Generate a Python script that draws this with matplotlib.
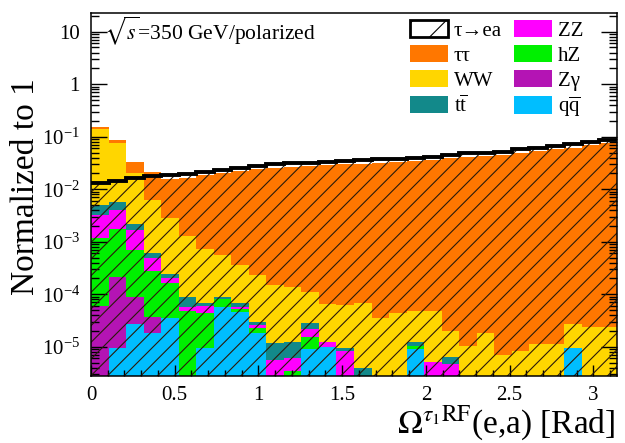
import numpy as np
import matplotlib
matplotlib.use("Agg")
import matplotlib.pyplot as plt
from matplotlib.patches import Patch
from matplotlib.ticker import FixedLocator, FixedFormatter, LogLocator, NullFormatter, MultipleLocator

plt.rcParams['font.family'] = ['Liberation Serif', 'DejaVu Serif']
plt.rcParams['mathtext.fontset'] = 'stix'
plt.rcParams['hatch.linewidth'] = 0.8

# ---------------- data (30 bins from 0 to pi) ----------------
x_range = (0.0, np.pi)
n_bins = 30

signal_tau_ea = [0.0129, 0.0145, 0.0163, 0.0178, 0.0184, 0.0194, 0.0213, 0.0232, 0.0254, 0.0281,
                 0.0296, 0.0309, 0.0316, 0.0330, 0.0344, 0.0355, 0.0368, 0.0381, 0.0398, 0.0419,
                 0.0448, 0.0483, 0.0496, 0.0518, 0.0575, 0.0609, 0.0679, 0.0716, 0.0792, 0.0865]

tautau = [0.0126, 0.0117, 0.0133, 0.0148, 0.0130, 0.0154, 0.0176, 0.0194, 0.0215, 0.0239,
          0.0253, 0.0264, 0.0271, 0.0283, 0.0296, 0.0304, 0.0316, 0.0327, 0.0342, 0.0360,
          0.0385, 0.0415, 0.0427, 0.0446, 0.0495, 0.0524, 0.0584, 0.0616, 0.0681, 0.0744]

ww = [0.1334, 0.0690, 0.0179, 5.60e-3, 2.55e-3, 1.20e-3, 6.49e-4, 4.68e-4, 2.93e-4, 2.02e-4,
      1.38e-4, 1.27e-4, 8.3e-5, 5.3e-5, 5.4e-5, 6.5e-5, 3.6e-5, 4.3e-5, 3.6e-5, 4.3e-5,
      1.37e-5, 1.03e-5, 1.80e-5, 6.9e-6, 8.3e-6, 1.13e-5, 1.13e-5, 1.77e-5, 2.34e-5, 2.34e-5]

ttbar = [1.77e-3, 1.76e-3, 5.0e-4, 1.34e-4, 4.2e-5, 3.1e-5, 7.5e-6, 8.5e-6, 9.3e-6, 4.0e-6,
         6.2e-6, 6.4e-6, 7.2e-6, 0, 1.2e-6, 3.9e-6, 0, 0, 2.2e-6, 0,
         1.8e-6, 0, 0, 0, 0, 0, 0, 0, 0, 0]

zz = [2.06e-3, 2.30e-3, 9.75e-4, 2.03e-4, 4.0e-5, 7.7e-6, 1.51e-5, 0, 4.0e-6, 3.5e-6,
      5.6e-6, 2.5e-6, 5.9e-6, 2.5e-6, 8.3e-6, 0, 0, 0, 0, 5.1e-6,
      4.7e-6, 0, 0, 0, 0, 0, 0, 0, 0, 0]

hz = [1.115e-3, 1.51e-3, 6.08e-4, 2.44e-4, 1.25e-4, 4.85e-5, 3.52e-5, 2.49e-5, 7.4e-6, 3.9e-6,
      0, 3.5e-6, 6.2e-6, 0, 0, 0, 0, 0, 1.2e-6, 0,
      0, 0, 0, 0, 0, 0, 0, 0, 0, 0]

zgamma = [5.96e-5, 2.0e-4, 6.0e-5, 1.83e-5, 0, 0, 0, 0, 0, 0,
          0, 0, 0, 0, 0, 0, 0, 0, 0, 0,
          0, 0, 0, 0, 0, 0, 0, 0, 0, 0]

qqbar = [0, 9.3e-6, 2.7e-5, 1.8e-5, 3.6e-5, 0, 9.3e-6, 5.6e-5, 4.6e-5, 1.85e-5,
         0, 0, 9.2e-6, 9.7e-6, 0, 0, 0, 0, 9.1e-6, 0,
         0, 0, 0, 0, 0, 0, 0, 9.3e-6, 0, 0]

legend_labels = [r'τ→ea', r'ττ', r'WW', r'$\mathregular{t\overline{t}}$',
                 r'ZZ', r'hZ', r'Zγ', r'$\mathregular{q\overline{q}}$']

x_ticks = [0, 0.5, 1, 1.5, 2, 2.5, 3]
x_tick_labels = ['0', '0.5', '1', '1.5', '2', '2.5', '3']
y_ticks = [1e-5, 1e-4, 1e-3, 1e-2, 1e-1, 1, 10]
y_tick_labels = [r'$\mathregular{10^{-5}}$', r'$\mathregular{10^{-4}}$', r'$\mathregular{10^{-3}}$',
                 r'$\mathregular{10^{-2}}$', r'$\mathregular{10^{-1}}$', '1', '10']

# ---------------- styling ----------------
c_tautau = '#FF7700'
c_ww = '#FFD600'
c_tt = '#12898A'
c_zz = '#FF00FF'
c_hz = '#00F000'
c_zg = '#B414B4'
c_qq = '#00BEFF'

edges = np.linspace(x_range[0], x_range[1], n_bins + 1)
ymin, ymax = 2.77e-6, 23.0
floor = 1e-12

fig = plt.figure(figsize=(6.25, 4.43), dpi=100)
ax = fig.add_axes([91 / 625, 1 - 376 / 443, (617 - 91) / 625, (376 - 12.7) / 443])
ax.set_yscale('log')

stack = [np.array(qqbar), np.array(zgamma), np.array(hz), np.array(zz),
         np.array(ttbar), np.array(ww), np.array(tautau)]
stack_colors = [c_qq, c_zg, c_hz, c_zz, c_tt, c_ww, c_tautau]
cum = np.cumsum(np.vstack(stack), axis=0)
for i in reversed(range(len(stack))):
    ax.stairs(np.clip(cum[i], floor, None), edges, baseline=floor, fill=True,
              facecolor=stack_colors[i], linewidth=0, zorder=1)

# signal: hatched area + thick black outline
ax.stairs(signal_tau_ea, edges, baseline=floor, fill=True, facecolor='none',
          edgecolor='#2a1a0a', hatch='//', linewidth=0, zorder=2)
ax.stairs(signal_tau_ea, edges, baseline=None, color='black', linewidth=2.8, zorder=3)

ax.set_xlim(*x_range)
ax.set_ylim(ymin, ymax)

ax.xaxis.set_major_locator(FixedLocator(x_ticks))
ax.xaxis.set_major_formatter(FixedFormatter(x_tick_labels))
ax.xaxis.set_minor_locator(MultipleLocator(0.1))
ax.yaxis.set_major_locator(FixedLocator(y_ticks))
ax.yaxis.set_major_formatter(FixedFormatter(y_tick_labels))
ax.yaxis.set_minor_locator(LogLocator(base=10, subs=np.arange(2, 10), numticks=100))
ax.yaxis.set_minor_formatter(NullFormatter())

ax.tick_params(which='both', direction='in', right=True, top=False, width=1.0,
               labelsize=15, colors='black')
ax.tick_params(axis='y', which='major', length=11.5, pad=8)
ax.tick_params(axis='y', which='minor', length=5.5)
ax.tick_params(axis='x', which='major', length=8, pad=7)
ax.tick_params(axis='x', which='minor', length=4.3)
for s in ax.spines.values():
    s.set_linewidth(1.1)
    s.set_zorder(5)

fig.text(26 / 625, 1 - 78 / 443, 'Normalized to 1', rotation=90, ha='center', va='top', fontsize=24)
fig.text(615 / 625, 1 - 433 / 443, r'$\Omega^{\tau_{1}\mathrm{RF}}$(e,a) [Rad]',
         ha='right', va='baseline', fontsize=24)

ax.text((104 - 91) / 526, 1 - (31 - 12.7) / 363.3, r'$\sqrt{s}$=350 GeV/polarized',
        transform=ax.transAxes, ha='left', va='center', fontsize=15.5)

handles = [Patch(facecolor='white', edgecolor='black', linewidth=2.0, hatch='/'),
           Patch(facecolor=c_tautau), Patch(facecolor=c_ww), Patch(facecolor=c_tt),
           Patch(facecolor=c_zz), Patch(facecolor=c_hz), Patch(facecolor=c_zg), Patch(facecolor=c_qq)]
leg = ax.legend(handles, legend_labels, ncol=2, loc='upper left',
                bbox_to_anchor=((410 - 91) / 526, 1 - (20 - 12.7) / 363.3),
                frameon=False, fontsize=15, handlelength=1.8, handleheight=0.9,
                handletextpad=0.3, labelspacing=0.2, columnspacing=0.6,
                borderpad=0, borderaxespad=0)

fig.savefig('out.png', dpi=100)
